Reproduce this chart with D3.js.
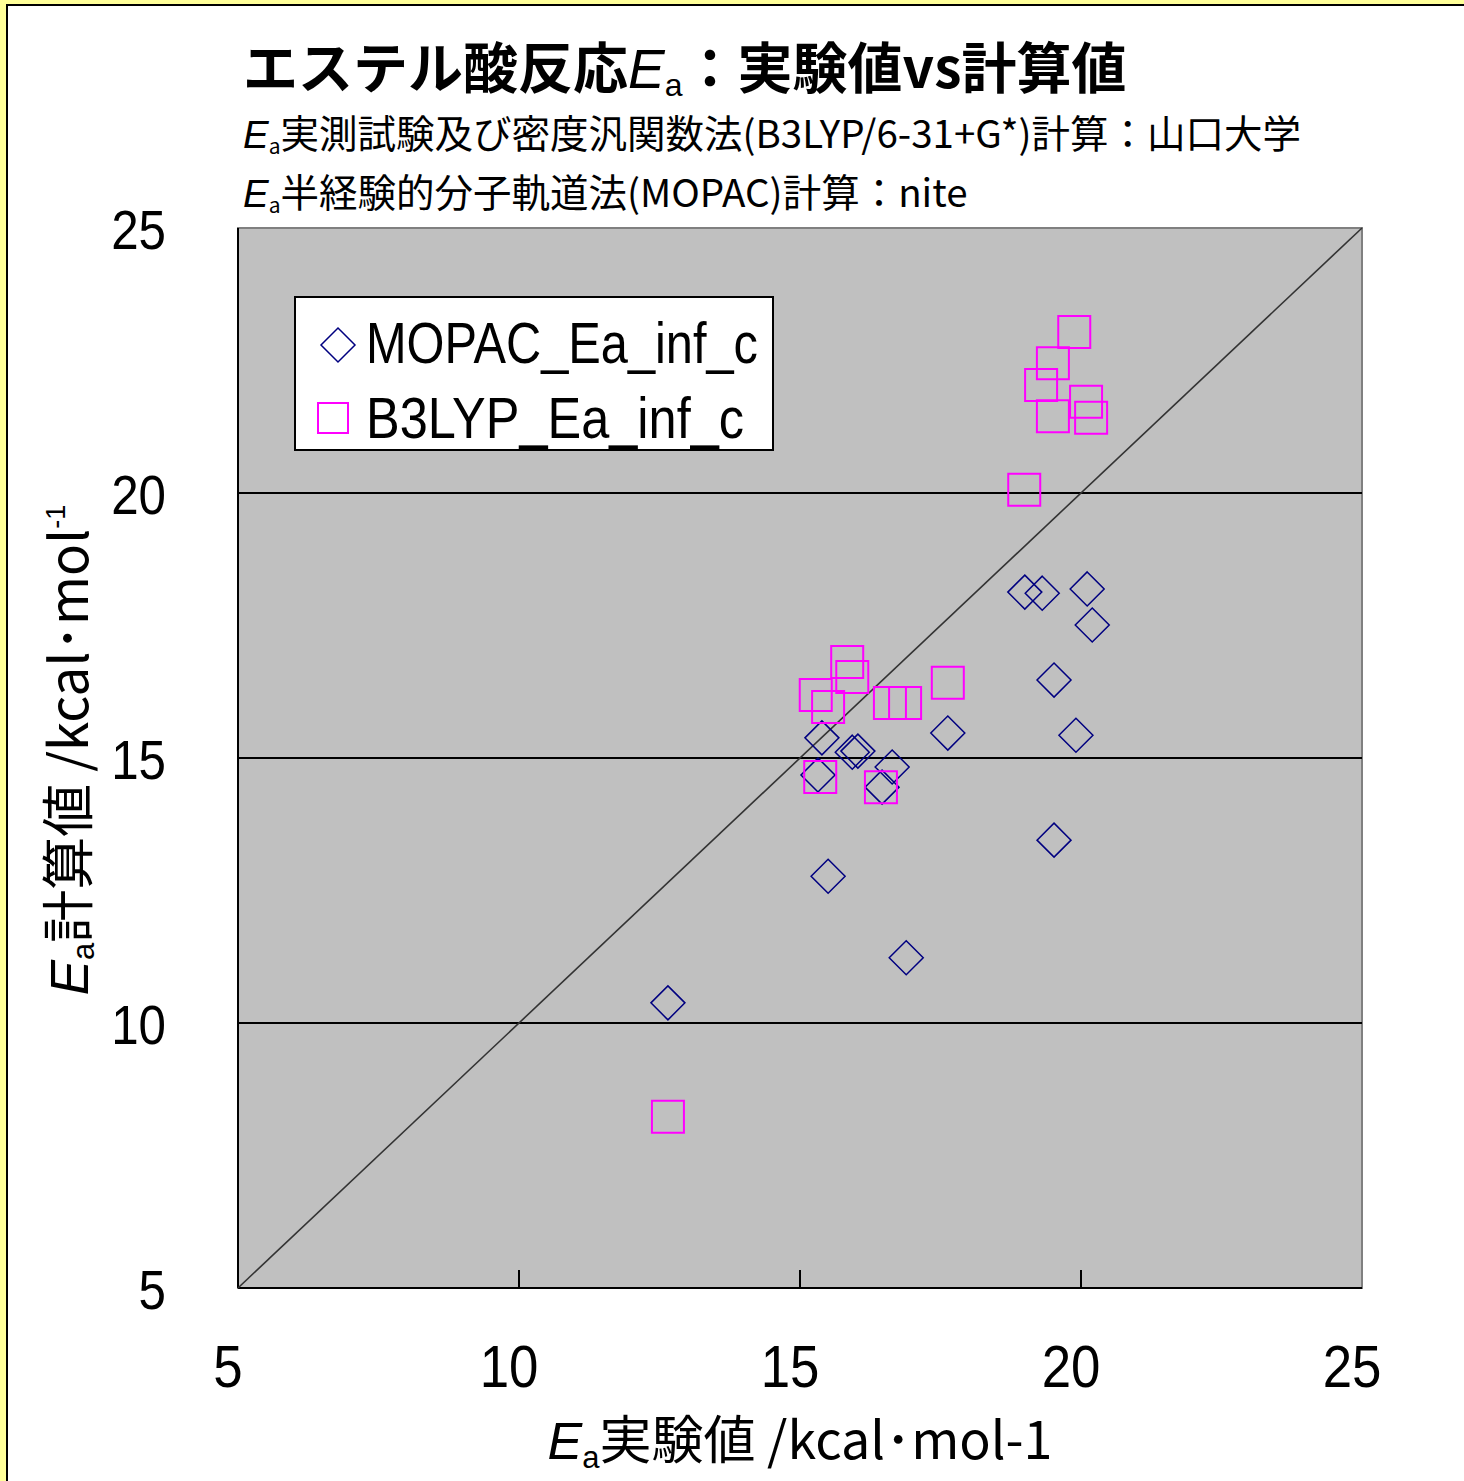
<!DOCTYPE html>
<html lang="ja">
<head>
<meta charset="UTF-8">
<title>エステル酸反応Ea</title>
<script src="https://d3js.org/d3.v7.min.js"></script>
<style>
    body { margin: 0; background: #fff; }
    text { font-family: 'Noto Sans CJK JP', 'Liberation Sans', sans-serif; fill: #000; }
    .num { font-family: 'Liberation Sans', Arial, sans-serif; }
</style>
</head>
<body>
<script>
    const width = 1464;
    const height = 1481;

    // experimental Ea (x) vs calculated Ea (y), kcal/mol
    const mopacX = [12.65, 15.5, 16.89, 15.39, 15.93, 16.03, 15.32, 16.46, 16.64, 17.63, 19.0, 19.31, 20.11, 20.2, 19.52, 19.91, 19.52];
    const mopacY = [10.38, 12.77, 11.23, 15.38, 15.11, 15.13, 14.68, 14.45, 14.83, 15.47, 18.13, 18.11, 18.19, 17.51, 16.47, 15.43, 13.45];
    const b3lypX = [12.65, 15.84, 15.93, 15.28, 15.5, 16.6, 16.87, 17.63, 15.36, 16.44, 19.88, 19.5, 19.29, 19.5, 20.09, 20.18, 18.99];
    const b3lypY = [8.23, 16.81, 16.53, 16.19, 15.96, 16.04, 16.04, 16.42, 14.64, 14.45, 23.04, 22.45, 22.04, 21.45, 21.72, 21.42, 20.06];

    const ticks = [5, 10, 15, 20, 25];
    const seriesNames = ['MOPAC_Ea_inf_c', 'B3LYP_Ea_inf_c'];

    const plot = {left: 238, right: 1362, top: 228, bottom: 1288};

    const x = d3.scaleLinear().domain([5, 25]).range([plot.left, plot.right]);
    const y = d3.scaleLinear().domain([5, 25]).range([plot.bottom, plot.top]);

    const svg = d3.select("body").append("svg").attr("width", width).attr("height", height);

    // page frame
    svg.append("rect").attr("width", width).attr("height", height).attr("fill", "#fff");
    svg.append("rect").attr("x", 0).attr("y", 0).attr("width", 7).attr("height", height).attr("fill", "#ffff99");
    svg.append("rect").attr("x", 0).attr("y", 0).attr("width", width).attr("height", 4).attr("fill", "#ffff99");
    svg.append("line").attr("x1", 7).attr("x2", 7).attr("y1", 4).attr("y2", height)
        .attr("stroke", "#000").attr("stroke-width", 2);
    svg.append("line").attr("x1", 7).attr("x2", width).attr("y1", 5).attr("y2", 5)
        .attr("stroke", "#000").attr("stroke-width", 2);

    // titles
    const title = svg.append("text").attr("x", 243).attr("y", 88)
        .attr("font-size", 55).attr("font-weight", "bold");
    title.append("tspan").text("エステル酸反応");
    title.append("tspan").attr("font-style", "italic").attr("font-family", "Liberation Sans").attr("font-weight", "normal").text("E");
    title.append("tspan").attr("font-size", 32).attr("dy", 8).attr("font-weight", "normal").attr("font-family", "Liberation Sans").text("a");
    title.append("tspan").attr("dy", -8).text("：実験値vs計算値");

    function subtitle(yPos, rest) {
        const t = svg.append("text").attr("x", 243).attr("y", yPos).attr("font-size", 38.5);
        t.append("tspan").attr("font-style", "italic").attr("font-family", "Liberation Sans").text("E");
        t.append("tspan").attr("font-size", 21).attr("dy", 6).text("a");
        t.append("tspan").attr("dy", -6).text(rest);
    }
    subtitle(148, "実測試験及び密度汎関数法(B3LYP/6-31+G*)計算：山口大学");
    subtitle(207, "半経験的分子軌道法(MOPAC)計算：nite");

    // plot area
    svg.append("rect").attr("x", plot.left).attr("y", plot.top)
        .attr("width", plot.right - plot.left).attr("height", plot.bottom - plot.top)
        .attr("fill", "#c0c0c0").attr("stroke", "#808080").attr("stroke-width", 2);

    svg.append("g").selectAll("line").data(ticks.slice(1, -1)).join("line")
        .attr("x1", plot.left).attr("x2", plot.right)
        .attr("y1", d => y(d)).attr("y2", d => y(d))
        .attr("stroke", "#000").attr("stroke-width", 2);

    svg.append("g").selectAll("line").data(ticks.slice(1, -1)).join("line")
        .attr("x1", d => x(d)).attr("x2", d => x(d))
        .attr("y1", plot.bottom).attr("y2", plot.bottom - 18)
        .attr("stroke", "#000").attr("stroke-width", 2);

    svg.append("line").attr("x1", plot.left).attr("x2", plot.left)
        .attr("y1", plot.top).attr("y2", plot.bottom).attr("stroke", "#000").attr("stroke-width", 2);
    svg.append("line").attr("x1", plot.left).attr("x2", plot.right)
        .attr("y1", plot.bottom).attr("y2", plot.bottom).attr("stroke", "#000").attr("stroke-width", 2);

    // y = x reference line
    svg.append("line").attr("x1", x(5)).attr("y1", y(5)).attr("x2", x(25)).attr("y2", y(25))
        .attr("stroke", "#333").attr("stroke-width", 1.6);

    // tick labels
    svg.append("g").selectAll("text").data(ticks).join("text").attr("class", "num")
        .attr("font-size", 56).attr("text-anchor", "end")
        .attr("transform", d => `translate(166,${y(d) + 21}) scale(0.88,1)`)
        .text(d => d);

    svg.append("g").selectAll("text").data(ticks).join("text").attr("class", "num")
        .attr("font-size", 60).attr("text-anchor", "middle")
        .attr("transform", d => `translate(${x(d) - 10},1387) scale(0.88,1)`)
        .text(d => d);

    // axis titles
    const xt = svg.append("text").attr("x", 800).attr("y", 1459).attr("font-size", 52)
        .attr("text-anchor", "middle");
    xt.append("tspan").attr("font-style", "italic").attr("font-family", "Liberation Sans").text("E");
    xt.append("tspan").attr("font-size", 31).attr("dy", 9).attr("font-family", "Liberation Sans").text("a");
    xt.append("tspan").attr("dy", -9).text("実験値 /kcal･mol-1");

    const yt = svg.append("text").attr("transform", "translate(88,750) rotate(-90)")
        .attr("font-size", 53).attr("text-anchor", "middle");
    yt.append("tspan").attr("font-style", "italic").attr("font-family", "Liberation Sans").text("E");
    yt.append("tspan").attr("font-size", 31).attr("dy", 6).attr("font-family", "Liberation Sans").text("a");
    yt.append("tspan").attr("dy", -6).text("計算値 /kcal･mol");
    yt.append("tspan").attr("font-size", 27).attr("dy", -23).attr("font-family", "Liberation Sans").text("-1");

    // markers
    const diamond = s => `M0,${-s}L${s},0L0,${s}L${-s},0Z`;
    const square = s => `M${-s},${-s}H${s}V${s}H${-s}Z`;

    svg.append("g").selectAll("path").data(mopacX).join("path")
        .attr("d", diamond(17))
        .attr("transform", (d, i) => `translate(${x(d)},${y(mopacY[i])})`)
        .attr("fill", "none").attr("stroke", "#000080").attr("stroke-width", 1.5);

    svg.append("g").selectAll("path").data(b3lypX).join("path")
        .attr("d", square(16))
        .attr("transform", (d, i) => `translate(${x(d)},${y(b3lypY[i])})`)
        .attr("fill", "none").attr("stroke", "#ff00ff").attr("stroke-width", 2);

    // legend
    const lg = svg.append("g").attr("transform", "translate(295,297)");
    lg.append("rect").attr("width", 478).attr("height", 153)
        .attr("fill", "#fff").attr("stroke", "#000").attr("stroke-width", 2);
    lg.append("path").attr("d", diamond(17)).attr("transform", "translate(43,48)")
        .attr("fill", "none").attr("stroke", "#000080").attr("stroke-width", 1.5);
    lg.append("path").attr("d", square(15)).attr("transform", "translate(38,121)")
        .attr("fill", "none").attr("stroke", "#ff00ff").attr("stroke-width", 2);
    lg.selectAll("text.lab").data(seriesNames).join("text").attr("class", "lab num")
        .attr("x", 71).attr("y", (d, i) => 66 + i * 75)
        .attr("font-size", 58)
        .attr("textLength", (d, i) => i === 0 ? 392 : 378)
        .attr("lengthAdjust", "spacingAndGlyphs")
        .text(d => d);
</script>
</body>
</html>
